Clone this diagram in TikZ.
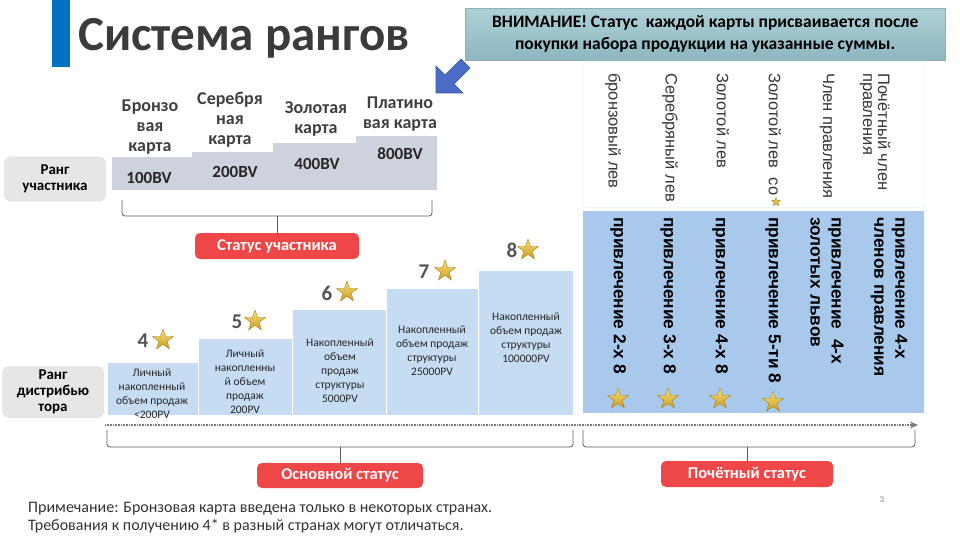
\documentclass[tikz,border=0pt]{standalone}
\usepackage{fontspec}
\setmainfont{Carlito}
\newfontfamily\arialf{Liberation Sans}
\usetikzlibrary{shapes.geometric,arrows.meta}
\definecolor{titlec}{HTML}{3B3B3B}
\definecolor{barblue}{HTML}{0070C0}
\definecolor{noteTop}{HTML}{AED0D6}
\definecolor{noteBot}{HTML}{8DB6C0}
\definecolor{noteBorder}{HTML}{8FB0B8}
\definecolor{arrowblue}{HTML}{4A6CC4}
\definecolor{arrowedge}{HTML}{3557A8}
\definecolor{cardtext}{HTML}{3F3F3F}
\definecolor{graystep}{HTML}{CDD2DC}
\definecolor{lblgray}{HTML}{E6E6E6}
\definecolor{redc}{HTML}{EF4747}
\definecolor{bluestep}{HTML}{C6DCF2}
\definecolor{bluebox}{HTML}{A8C8EC}
\definecolor{numgray}{HTML}{555555}
\definecolor{starTop}{HTML}{FBE27A}
\definecolor{starBot}{HTML}{C99A22}
\definecolor{starEdge}{HTML}{A8841E}
\definecolor{bracec}{HTML}{5A5A5A}
\definecolor{dotc}{HTML}{7A7A7A}
\newcommand\myfs[2]{\fontsize{#1}{#2}\selectfont}
\begin{document}
\begin{tikzpicture}[x=1pt,y=-1pt,
 lblbox/.style={fill=lblgray, rounded corners=7pt, minimum width=102, align=center, font=\bfseries\myfs{15}{16}, text=black, inner sep=0},
 redbox/.style={fill=redc, rounded corners=5pt, text=white, font=\bfseries\myfs{16.5}{18}, inner sep=0},
 cardtxt/.style={align=center, font=\bfseries\myfs{18}{20}, text=cardtext, inner sep=0},
 bvtxt/.style={font=\bfseries\myfs{17}{19}, text=black!85, inner sep=0},
 steptxt/.style={align=center, font=\myfs{11.5}{14}, text=black!85, inner sep=0},
 numtxt/.style={font=\bfseries\myfs{21}{22}, text=numgray, inner sep=0},
 goldstar/.style={star, star points=5, star point ratio=2.5, inner sep=0, minimum size=#1, top color=starTop, bottom color=starBot, draw=starEdge, line width=0.4pt},
 vtop/.style={rotate=-90, anchor=west, align=left, font=\arialf\myfs{16.5}{15}, text=black!78, inner sep=0},
 vbot/.style={rotate=-90, anchor=west, align=left, font=\arialf\bfseries\myfs{17.3}{21}, text=black, inner sep=0},
 bracepath/.style={draw=bracec, line width=0.8pt, rounded corners=3pt},
 tipline/.style={draw=bracec, line width=0.8pt},
]
\useasboundingbox (0,0) rectangle (960,540);
% title
\fill[barblue] (52,0) rectangle (70,67);
\node[anchor=base west, inner sep=0, font=\bfseries\myfs{49}{50}, text=titlec] (title) at (78,51) {Система рангов};
% blue arrow
\filldraw[fill=arrowblue, draw=arrowedge, line width=0.6pt] (436,93) -- (436,66) -- (445,75) -- (461,59) -- (470,68) -- (454,84) -- (463,93) -- cycle;
% notice
\node[draw=noteBorder, top color=noteTop, bottom color=noteBot, minimum width=480, minimum height=52, anchor=north west, inner sep=0, align=center, font=\bfseries\myfs{17.5}{22}] (notice) at (465,8) {ВНИМАНИЕ! Статус\ \ каждой карты присваивается после\\покупки набора продукции на указанные суммы.};
% cards
\fill[graystep] (112,157) rectangle (192,190);
\fill[graystep] (192,152) rectangle (273,190);
\fill[graystep] (273,143) rectangle (356,190);
\fill[graystep] (356,136) rectangle (437,190);
\node[cardtxt] (c1) at (150,127) {Бронзо\\вая\\карта};
\node[cardtxt] (c2) at (230,120) {Серебря\\ная\\карта};
\node[cardtxt] (c3) at (316,119) {Золотая\\карта};
\node[cardtxt] (c4) at (400,114) {Платино\\вая карта};
\node[bvtxt] (bv1) at (149,178) {100BV};
\node[bvtxt] (bv2) at (235,172) {200BV};
\node[bvtxt] (bv3) at (317,164) {400BV};
\node[bvtxt] (bv4) at (400,154) {800BV};
% rank labels
\node[lblbox, minimum height=45] (rank1) at (55,179) {Ранг\\участника};
\node[lblbox, minimum height=52] (rank2) at (53,392) {Ранг\\дистрибью\\тора};
% top brace
\draw[bracepath] (122,200) |- (432,216) -- (432,200);
\node[redbox, minimum width=164, minimum height=26] (st1) at (277,246) {Статус участника};
\coordinate (bt1) at (277,216);
\draw[tipline] (bt1) -- (st1.north);
% distributor steps
\filldraw[fill=bluestep, draw=white, line width=0.6pt] (107,362) rectangle (198,415);
\filldraw[fill=bluestep, draw=white, line width=0.6pt] (198,338) rectangle (292,415);
\filldraw[fill=bluestep, draw=white, line width=0.6pt] (292,309) rectangle (386,415);
\filldraw[fill=bluestep, draw=white, line width=0.6pt] (386,288) rectangle (478,415);
\filldraw[fill=bluestep, draw=white, line width=0.6pt] (478,270) rectangle (573,415);
\node[steptxt] (t4) at (152,394) {Личный\\накопленный\\объем продаж\\<200PV};
\node[steptxt] (t5) at (245,382) {Личный\\накопленны\\й объем\\продаж\\200PV};
\node[steptxt] (t6) at (340,371) {Накопленный\\объем\\продаж\\структуры\\5000PV};
\node[steptxt] (t7) at (432,351) {Накопленный\\объем продаж\\структуры\\25000PV};
\node[steptxt] (t8) at (526,338) {Накопленный\\объем продаж\\структуры\\100000PV};
\node[numtxt] (n4) at (143,341) {4};
\node[goldstar=22] (s4) at (163,340) {};
\node[numtxt] (n5) at (237,322) {5};
\node[goldstar=22] (s5) at (255,321) {};
\node[numtxt] (n6) at (327,293) {6};
\node[goldstar=22] (s6) at (347,292) {};
\node[numtxt] (n7) at (424,272) {7};
\node[goldstar=22] (s7) at (445,271) {};
\node[numtxt] (n8) at (512,250) {8};
\node[goldstar=22] (s8) at (528,250) {};
% right area
\draw[draw=cyan!6, fill=white, line width=0.6pt] (583,62) rectangle (924,207);
\fill[bluebox] (583,211) rectangle (924,413);
\node[vtop] (v1) at (613,73) {бронзовый лев};
\node[vtop] (v2) at (670,73) {Серебряный лев};
\node[vtop] (v3) at (723,73) {Золотой лев};
\node[vtop] (v4) at (775,73) {Золотой лев\ \ со};
\node[vtop] (v5) at (827,73) {Член правления};
\node[vtop] (v6) at (875,73) {Почётный член\\правления};
\node[goldstar=9] (sv4) at (776,202) {};
\node[vbot] (w1) at (618,217) {привлечение 2-х 8};
\node[vbot] (w2) at (668,217) {привлечение 3-х 8};
\node[vbot] (w3) at (720,217) {привлечение 4-х 8};
\node[vbot] (w4) at (773,217) {привлечение 5-ти 8};
\node[vbot] (w5) at (827,217) {привлечение\ \ 4-х\\золотых львов};
\node[vbot] (w6) at (889,217) {привлечение 4-х\\членов правления};
\node[goldstar=22] (sw1) at (618,399) {};
\node[goldstar=22] (sw2) at (668,399) {};
\node[goldstar=22] (sw3) at (720,399) {};
\node[goldstar=22] (sw4) at (773,402) {};
% dotted arrow
\coordinate (d0) at (105,425);
\coordinate (d1) at (918,425);
\draw[dotc, line width=1.8pt, dash pattern=on 0.9pt off 0.7pt, -{Stealth[length=8pt,width=7pt]}] (d0) -- (d1);
% bottom braces
\draw[bracepath] (107,430) |- (573,447) -- (573,430);
\draw[bracepath] (583,430) |- (915,447) -- (915,430);
\node[redbox, minimum width=166, minimum height=25] (st2) at (340,475.5) {Основной статус};
\node[redbox, minimum width=172, minimum height=26] (st3) at (747,474) {Почётный статус};
\coordinate (bt2) at (340,447);
\coordinate (bt3) at (747,447);
\draw[tipline] (bt2) -- (st2.north);
\draw[tipline] (bt3) -- (st3.north);
% note
\node[anchor=north west, inner sep=0, align=left, font=\myfs{16}{18}, text=black!80] (note) at (28,502) {Примечание: Бронзовая карта введена только в некоторых странах.\\Требования к получению 4* в разный странах могут отличаться.};
\node[font=\myfs{9}{10}, text=black!45] (pg) at (882,500) {3};
\end{tikzpicture}
\end{document}
